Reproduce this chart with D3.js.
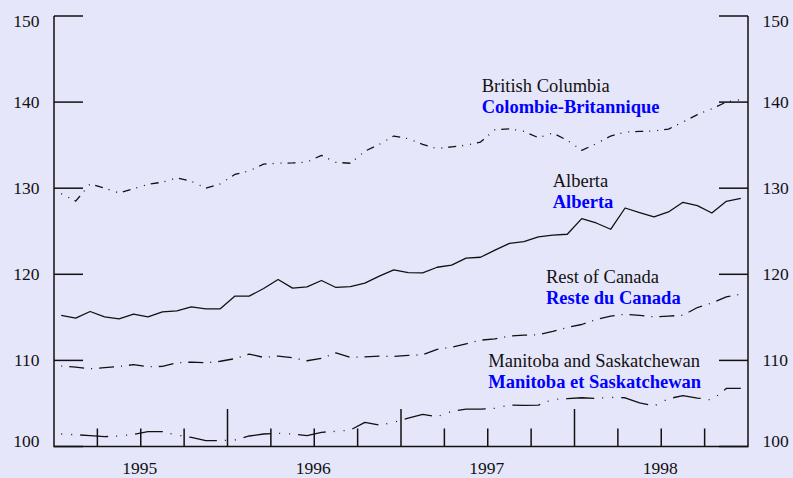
<!DOCTYPE html>
<html><head><meta charset="utf-8">
<script src="https://cdn.jsdelivr.net/npm/d3@7/dist/d3.min.js"></script>
<style>
html,body{margin:0;padding:0;background:#e6e6fa;}
svg{display:block;}
text{font-family:"Liberation Serif","Times New Roman",serif;}
</style></head>
<body><svg id="c" width="793" height="478"></svg>
<script>
const years = [1995, 1996, 1997, 1998];
const yTicks = [100, 110, 120, 130, 140, 150];

const britishColumbia = [129.37,128.5,130.5,130.0,129.45,129.95,130.45,130.7,131.2,130.8,130.0,130.5,
 131.6,132.0,132.8,132.9,132.93,133.04,133.82,133.0,132.9,134.3,135.1,136.06,
 135.75,135.1,134.6,134.8,135.0,135.36,136.8,136.9,136.6,135.87,136.4,135.56,
 134.4,135.17,136.06,136.52,136.6,136.64,136.87,137.68,138.54,139.23,140.0,140.3];
const alberta = [115.22,114.9,115.68,115.06,114.83,115.37,115.06,115.64,115.76,116.22,115.99,115.99,
 117.46,117.46,118.35,119.39,118.39,118.54,119.28,118.47,118.58,118.97,119.78,120.51,
 120.2,120.17,120.82,121.06,121.87,121.98,122.8,123.6,123.8,124.34,124.54,124.65,
 126.47,125.96,125.23,127.7,127.17,126.66,127.24,128.36,127.98,127.12,128.48,128.83];
const restOfCanada = [109.34,109.22,109.03,109.15,109.3,109.5,109.26,109.3,109.72,109.8,109.72,109.9,
 110.2,110.73,110.35,110.5,110.3,109.96,110.23,110.88,110.35,110.42,110.5,110.46,
 110.58,110.65,111.28,111.54,111.93,112.35,112.5,112.82,112.94,112.97,113.36,113.83,
 114.17,114.75,115.14,115.37,115.22,115.06,115.14,115.25,116.14,116.68,117.38,117.7];
const manitobaSask = [101.45,101.37,101.26,101.14,101.22,101.41,101.72,101.72,101.33,101.06,100.68,100.68,
 100.75,101.22,101.45,101.53,101.45,101.26,101.65,101.76,101.91,102.8,102.49,102.8,
 103.3,103.73,103.46,104.08,104.35,104.35,104.43,104.81,104.77,104.81,105.47,105.55,
 105.66,105.59,105.7,105.66,105.08,104.7,105.55,105.9,105.63,105.4,106.75,106.75];

const seriesNames = ["British Columbia","Alberta","Rest of Canada","Manitoba and Saskatchewan"];
const seriesNamesFr = ["Colombie-Britannique","Alberta","Reste du Canada","Manitoba et Saskatchewan"];

const svg = d3.select("#c");
const L = 54, R = 748, T = 16, B = 446.5;
const nMonths = years.length * 12;
const x = d3.scaleLinear().domain([0, nMonths]).range([L, R]);
const y = d3.scaleLinear().domain([100, 150]).range([B, T]);

const series = [
  {v: britishColumbia, dash: "1,7,1,6,8,6", lx: 481.7, ly: 92},
  {v: alberta, dash: null, lx: 552.7, ly: 186.7},
  {v: restOfCanada, dash: "1,7,15,7", lx: 546, ly: 282.7},
  {v: manitobaSask, dash: "1,9,1,8,28,8", lx: 488.3, ly: 367}
];

const line = d3.line().x((d, i) => x(i + 0.5)).y(d => y(d));
const g = svg.append("g");

// data lines
series.forEach(s => {
  const p = g.append("path").datum(s.v).attr("d", line)
    .attr("fill", "none").attr("stroke", "#111").attr("stroke-width", 1.3)
    .attr("stroke-linejoin", "round");
  if (s.dash) p.attr("stroke-dasharray", s.dash);
});

// axes frame
const ax = svg.append("g").attr("stroke", "#111").attr("stroke-width", 1.5).attr("fill", "none");
ax.append("path").attr("d", `M${L},${T}V${B}H${R}V${T}`);
const tickLen = 29;
yTicks.forEach(t => {
  ax.append("line").attr("x1", L).attr("x2", L + tickLen).attr("y1", y(t)).attr("y2", y(t));
  ax.append("line").attr("x1", R).attr("x2", R - tickLen).attr("y1", y(t)).attr("y2", y(t));
});
d3.range(3, nMonths, 3).forEach(m => {
  const tall = m % 12 === 0;
  ax.append("line").attr("x1", x(m)).attr("x2", x(m))
    .attr("y1", B).attr("y2", B - (tall ? 37.5 : 18));
});

// y tick labels
const yMax = d3.max(yTicks), yMin = d3.min(yTicks);
yTicks.forEach(t => {
  const off = t === yMax ? 11 : (t === yMin ? 0.3 : 5.5);
  svg.append("text").attr("x", 39.5).attr("y", y(t) + off).attr("text-anchor", "end")
    .attr("font-size", "17.5px").attr("fill", "#111").text(t);
  svg.append("text").attr("x", 762.5).attr("y", y(t) + off).attr("text-anchor", "start")
    .attr("font-size", "17.5px").attr("fill", "#111").text(t);
});

// year labels
years.forEach((yr, k) => {
  svg.append("text").attr("x", x(k * 12 + 6) - 1).attr("y", 474).attr("text-anchor", "middle")
    .attr("font-size", "17.5px").attr("fill", "#111").text(yr);
});

// series labels
series.forEach((s, i) => {
  svg.append("text").attr("x", s.lx).attr("y", s.ly).attr("font-size", "18.5px")
    .attr("fill", "#111").text(seriesNames[i]);
  svg.append("text").attr("x", s.lx).attr("y", s.ly + 21.3).attr("font-size", "18.5px")
    .attr("font-weight", "bold").attr("fill", "#0000ff").text(seriesNamesFr[i]);
});
</script></body></html>
